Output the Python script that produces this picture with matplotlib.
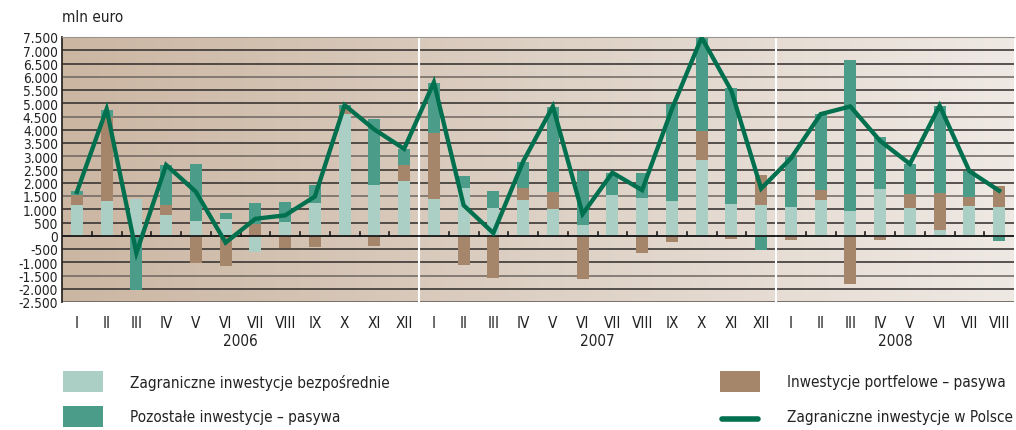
import numpy as np
import matplotlib.pyplot as plt
from matplotlib.patches import Rectangle
from matplotlib.lines import Line2D
from matplotlib.colors import LinearSegmentedColormap

months = ["I", "II", "III", "IV", "V", "VI", "VII", "VIII", "IX", "X", "XI", "XII"] * 2 + \
         ["I", "II", "III", "IV", "V", "VI", "VII", "VIII"]
years = ["2006", "2007", "2008"]

# mln euro
fdi = [1150, 1300, 1380, 780, 550, 630, -600, 530, 1230, 4600, 1910, 2060,
       1380, 1800, 1040, 1350, 1000, 400, 1530, 1420, 1300, 2850, 1200, 1160,
       1080, 1350, 930, 1760, 1040, 230, 1120, 1080]
portfolio = [380, 3200, -40, 380, -1030, -1130, 430, -480, -420, 180, -380, 600,
             2490, -1100, -1590, 450, 640, -1620, 0, -650, -230, 1090, -110, 1130,
             -150, 380, -1820, -150, 530, 1400, 350, 790]
other = [150, 250, -2000, 1500, 2150, 230, 800, 740, 680, 150, 2490, 630,
         1880, 440, 630, 1000, 3210, 2040, 830, 940, 3670, 3540, 4360, -530,
         1910, 2870, 5700, 1960, 1130, 3280, 970, -190]
total = [1650, 4780, -650, 2670, 1660, -260, 640, 770, 1480, 4930, 4010, 3280,
         5790, 1150, 100, 2800, 4880, 820, 2380, 1720, 4780, 7480, 5470, 1780,
         2920, 4590, 4880, 3580, 2710, 4910, 2440, 1700]

c_fdi = "#abcfc5"
c_port = "#a5866a"
c_other = "#4b9d89"
c_line = "#00704f"

plt.rcParams['font.family'] = ['DejaVu Sans']
plt.rcParams['font.stretch'] = 'condensed'

fig = plt.figure(figsize=(10.16, 4.31), dpi=100)
ax = fig.add_axes([62 / 1016, 1 - 303 / 431, 952 / 1016, 265 / 431])

n = len(months)
x = np.arange(n)
ax.set_xlim(-0.5, n - 0.5)
ax.set_ylim(-2500, 7500)

# background gradient
bg = LinearSegmentedColormap.from_list("bg", ["#cbb6a2", "#ddd0c4", "#efe9e4"])
ax.imshow(np.linspace(0, 1, 256).reshape(1, -1), cmap=bg, aspect="auto",
          extent=[-0.5, n - 0.5, -2500, 7500], zorder=0)

# grid
for i, yv in enumerate(range(-2000, 7501, 500)):
    col = "#2e2a28" if i % 3 != 1 else "#6e6660"
    ax.axhline(yv, color=col, lw=1.1, zorder=1)
ax.axhline(-2500, color="#6e6660", lw=2, zorder=1)
ax.axhline(0, color="#1a1a1a", lw=1.3, zorder=4)

# year separators
for b in [11.5, 23.5]:
    ax.axvline(b, color="white", lw=1.5, zorder=1.5)

# stacked bars (positives up, negatives down)
w = 0.41
pos_base = np.zeros(n)
neg_base = np.zeros(n)
for vals, col in [(fdi, c_fdi), (portfolio, c_port), (other, c_other)]:
    v = np.array(vals, dtype=float)
    bottom = np.where(v >= 0, pos_base, neg_base)
    ax.bar(x, v, w, bottom=bottom, color=col, zorder=3, linewidth=0)
    pos_base += np.where(v >= 0, v, 0)
    neg_base += np.where(v < 0, v, 0)

# small ticks on the zero line
for b in np.arange(0.5, n - 1, 1.0):
    if b in (11.5, 23.5):
        continue
    ax.plot([b, b], [0, 130], color="#1a1a1a", lw=1.2, zorder=4)

ax.plot(x, total, color=c_line, lw=3.1, zorder=5, solid_joinstyle="miter")

for s in ["right", "bottom"]:
    ax.spines[s].set_visible(False)
ax.spines["top"].set_color("#9a9490")
ax.spines["left"].set_color("#2e2a28")
ax.spines["left"].set_linewidth(1.3)

yt = list(range(-2500, 7501, 500))
ax.set_yticks(yt)
ax.set_yticklabels([f"{v:,}".replace(",", ".") for v in yt], fontsize=9.8)
ax.tick_params(axis="y", length=0, pad=3, colors="#222222")
ax.set_xticks(x)
ax.set_xticklabels(months, fontsize=11, color="#222222")
ax.tick_params(axis="x", length=0, pad=9)

for k, yr in enumerate(years):
    start = 12 * k
    end = min(12 * k + 11, n - 1)
    ax.text((start + end) / 2, -3950, yr, ha="center", va="center",
            fontsize=11, color="#222222")

fig.text(62 / 1016, 1 - 18 / 431, "mln euro", fontsize=11, color="#222222",
         va="center")

# legend
def lg_patch(px, py, col, label):
    fig.add_artist(Rectangle((px / 1016, 1 - (py + 10) / 431), 40 / 1016, 21 / 431,
                             transform=fig.transFigure, color=col, lw=0))
    fig.text((px + 67) / 1016, 1 - py / 431, label, fontsize=11,
             color="#222222", va="center")

lg_patch(63, 383, c_fdi, "Zagraniczne inwestycje bezpośrednie")
lg_patch(63, 418, c_other, "Pozostałe inwestycje – pasywa")
lg_patch(720, 383, c_port, "Inwestycje portfelowe – pasywa")
fig.add_artist(Line2D([722 / 1016, 758 / 1016], [1 - 420 / 431, 1 - 420 / 431],
                      transform=fig.transFigure, color=c_line, lw=4,
                      solid_capstyle="round"))
fig.text(787 / 1016, 1 - 418 / 431, "Zagraniczne inwestycje w Polsce",
         fontsize=11, color="#222222", va="center")

fig.savefig("out.png", dpi=100)
